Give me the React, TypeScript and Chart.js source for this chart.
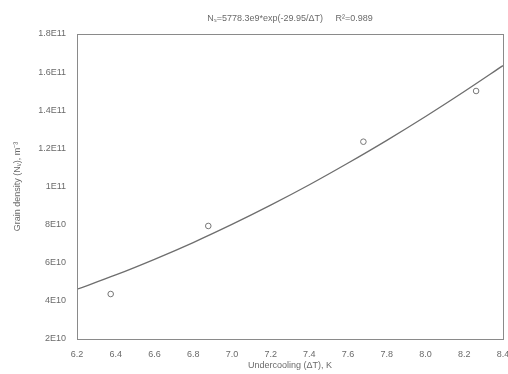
import React, { useEffect, useRef } from "react";
import { Chart, registerables } from "chart.js";

Chart.register(...registerables);

// Measured points
const measuredX = [6.374, 6.878, 7.679, 8.261];
const measuredY = [4.36e10, 7.93e10, 1.235e11, 1.501e11];

// Fitted curve
const fitX = [6.2, 6.4, 6.6, 6.8, 7.0, 7.2, 7.4, 7.6, 7.8, 8.0, 8.2, 8.4];
const fitY = [4.61e10, 5.36e10, 6.18e10, 7.06e10, 8.01e10, 9.02e10, 1.009e11, 1.123e11, 1.242e11, 1.367e11, 1.498e11, 1.634e11];

const xTickLabels = ["6.2", "6.4", "6.6", "6.8", "7.0", "7.2", "7.4", "7.6", "7.8", "8.0", "8.2", "8.4"];
const yTickLabels: Record<string, string> = {
  "20000000000": "2E10",
  "40000000000": "4E10",
  "60000000000": "6E10",
  "80000000000": "8E10",
  "100000000000": "1E11",
  "120000000000": "1.2E11",
  "140000000000": "1.4E11",
  "160000000000": "1.6E11",
  "180000000000": "1.8E11",
};

const titleText = "N\u209B=5778.3e9*exp(-29.95/\u0394T)     R\u00B2=0.989";
const xTitle = "Undercooling (\u0394T), K";
const yTitle = "Grain density (N\u1D65), m\u207B\u00B3";

const FONT = "'Liberation Sans', Arial, sans-serif";
const TEXT = "#6a6a6a";

export default function App() {
  const ref = useRef<HTMLCanvasElement | null>(null);
  useEffect(() => {
    document.body.style.margin = "0";
    document.body.style.overflow = "hidden";
    const canvas = ref.current!;
    const framePlugin = {
      id: "frame",
      afterDraw(chart: any) {
        const { ctx, chartArea } = chart;
        ctx.save();
        ctx.strokeStyle = "#8a8a8a";
        ctx.lineWidth = 1;
        ctx.setLineDash([]);
        ctx.strokeRect(
          Math.round(chartArea.left) + 0.5,
          Math.round(chartArea.top) + 0.5,
          Math.round(chartArea.right - chartArea.left),
          Math.round(chartArea.bottom - chartArea.top)
        );
        ctx.fillStyle = TEXT;
        ctx.font = `9px ${FONT}`;
        ctx.textAlign = "center";
        ctx.textBaseline = "middle";
        ctx.fillText(titleText, (chartArea.left + chartArea.right) / 2, 19);
        ctx.restore();
      },
    };
    const chart = new Chart(canvas, {
      type: "scatter",
      data: {
        datasets: [
          {
            type: "line",
            data: fitX.map((x, i) => ({ x, y: fitY[i] })),
            borderColor: "#6e6e6e",
            borderWidth: 1.3,
            pointRadius: 0,
            cubicInterpolationMode: "monotone",
            fill: false,
          } as any,
          {
            data: measuredX.map((x, i) => ({ x, y: measuredY[i] })),
            pointRadius: 2.8,
            pointBorderWidth: 1,
            borderColor: "#777",
            backgroundColor: "#fff",
            pointStyle: "circle",
          },
        ],
      },
      options: {
        animation: false,
        responsive: false,
        layout: { padding: { left: 0, right: 17, top: 34, bottom: 0 } },
        plugins: { legend: { display: false }, tooltip: { enabled: false } },
        scales: {
          x: {
            type: "linear",
            min: 6.2,
            max: 8.4,
            afterBuildTicks(scale: any) {
              scale.ticks = xTickLabels.map((t) => ({ value: parseFloat(t) }));
            },
            afterFit(scale: any) {
              scale.height = 35;
            },
            grid: { display: false, drawTicks: false },
            border: { display: false },
            ticks: {
              color: TEXT,
              font: { family: FONT, size: 9 },
              padding: 10,
              maxRotation: 0,
              autoSkip: false,
              callback: (v: any) => {
                const s = Number(v).toFixed(1);
                return xTickLabels.includes(s) ? s : "";
              },
            },
            title: {
              display: true,
              text: xTitle,
              color: TEXT,
              font: { family: FONT, size: 9 },
              padding: { top: 0, bottom: 3 },
            },
          },
          y: {
            type: "linear",
            min: 2e10,
            max: 1.8e11,
            afterBuildTicks(scale: any) {
              scale.ticks = Object.keys(yTickLabels).map((k) => ({ value: Number(k) }));
            },
            afterFit(scale: any) {
              scale.width = 77;
            },
            grid: { display: false, drawTicks: false },
            border: { display: false },
            ticks: {
              color: TEXT,
              font: { family: FONT, size: 9 },
              padding: 11,
              autoSkip: false,
              callback: (v: any) => yTickLabels[String(Math.round(Number(v)))] ?? "",
            },
            title: {
              display: true,
              text: yTitle,
              color: TEXT,
              font: { family: FONT, size: 9 },
              padding: { top: 12, bottom: 0 },
            },
          },
        },
      },
      plugins: [framePlugin],
    });
    return () => chart.destroy();
  }, []);
  return (
    <div style={{ position: "fixed", left: 0, top: 0, width: 520, height: 374 }}>
      <canvas ref={ref} width={520} height={374} style={{ display: "block" }} />
    </div>
  );
}
